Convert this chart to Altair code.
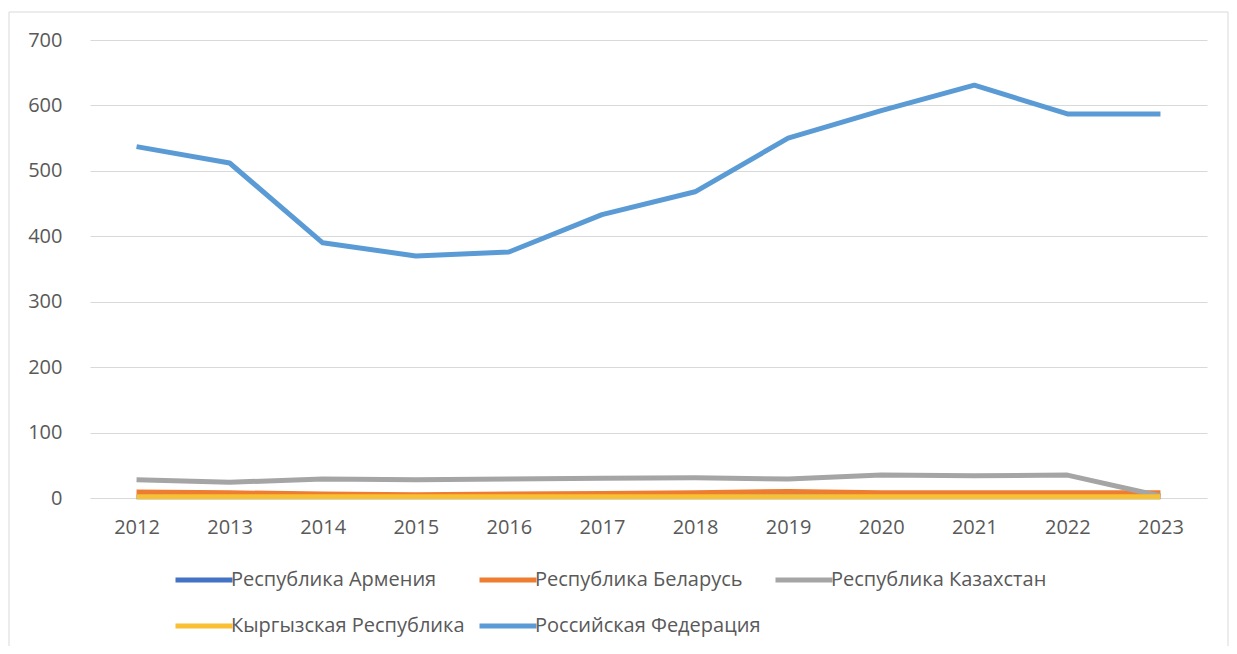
import altair as alt
import pandas as pd

years = [str(y) for y in range(2012, 2024)]
series_names = ["Республика Армения", "Республика Беларусь", "Республика Казахстан",
                "Кыргызская Республика", "Российская Федерация"]
armenia = [2, 2, 2, 2, 2, 2, 2, 2, 2, 2, 2, 2]
belarus = [9, 8, 6, 5, 6, 7, 8, 10, 8, 8, 8, 8]
kazakhstan = [28, 24, 29, 28, 29, 30, 31, 29, 35, 34, 35, 3]
kyrgyz = [2, 2, 2, 2, 2, 2, 2, 2, 2, 2, 2, 2]
russia = [537, 512, 390, 370, 376, 433, 468, 550, 592, 631, 587, 587]
colors = ["#4472C4", "#ED7D31", "#A5A5A5", "#F8C032", "#5B9BD5"]

rows = []
for name, vals in zip(series_names, [armenia, belarus, kazakhstan, kyrgyz, russia]):
    for y, v in zip(years, vals):
        rows.append({"year": y, "value": v, "series": name, "order": series_names.index(name)})
df = pd.DataFrame(rows)

font = "Open Sans"
fs = 20

frame = alt.Chart(pd.DataFrame({"a": [0]})).mark_rect(
    fill=None, stroke="#d9d9d9", strokeWidth=1
).encode(
    x=alt.value(-81), x2=alt.value(1138), y=alt.value(-28), y2=alt.value(700)
)

lines = alt.Chart(df).mark_line(strokeWidth=5, strokeCap="butt", strokeJoin="round").encode(
    x=alt.X("year:O", sort=years,
            scale=alt.Scale(type="point", padding=0.5),
            axis=alt.Axis(title=None, labelAngle=0, domain=False, ticks=False,
                          labelPadding=19, labelFontSize=fs, labelColor="#595959",
                          labelFont=font, grid=False)),
    y=alt.Y("value:Q", scale=alt.Scale(domain=[0, 700], nice=False),
            axis=alt.Axis(title=None, values=list(range(0, 701, 100)), domain=False,
                          ticks=False, labelPadding=28, labelFontSize=fs,
                          labelColor="#595959", labelFont=font, grid=True,
                          gridColor="#d9d9d9", gridWidth=1)),
    color=alt.Color("series:N", sort=series_names,
                    scale=alt.Scale(domain=series_names, range=colors),
                    legend=alt.Legend(title=None, orient="none", legendX=83, legendY=509,
                                      direction="horizontal", columns=3,
                                      symbolType="stroke", symbolSize=3249,
                                      symbolStrokeWidth=5, labelOffset={"expr": "-4"},
                                      labelFontSize=fs, labelColor="#595959",
                                      labelFont=font, columnPadding=4, rowPadding=5,
                                      labelLimit=400)),
    order=alt.Order("order:Q"),
)

chart = alt.layer(frame, lines).properties(
    width=1117, height=458,
    autosize=alt.AutoSizeParams(type="none"),
    padding={"left": 82, "top": 32, "right": 22, "bottom": 148},
).configure_view(stroke=None)

chart.save("out.html", embed_options={"renderer": "svg", "actions": False})
